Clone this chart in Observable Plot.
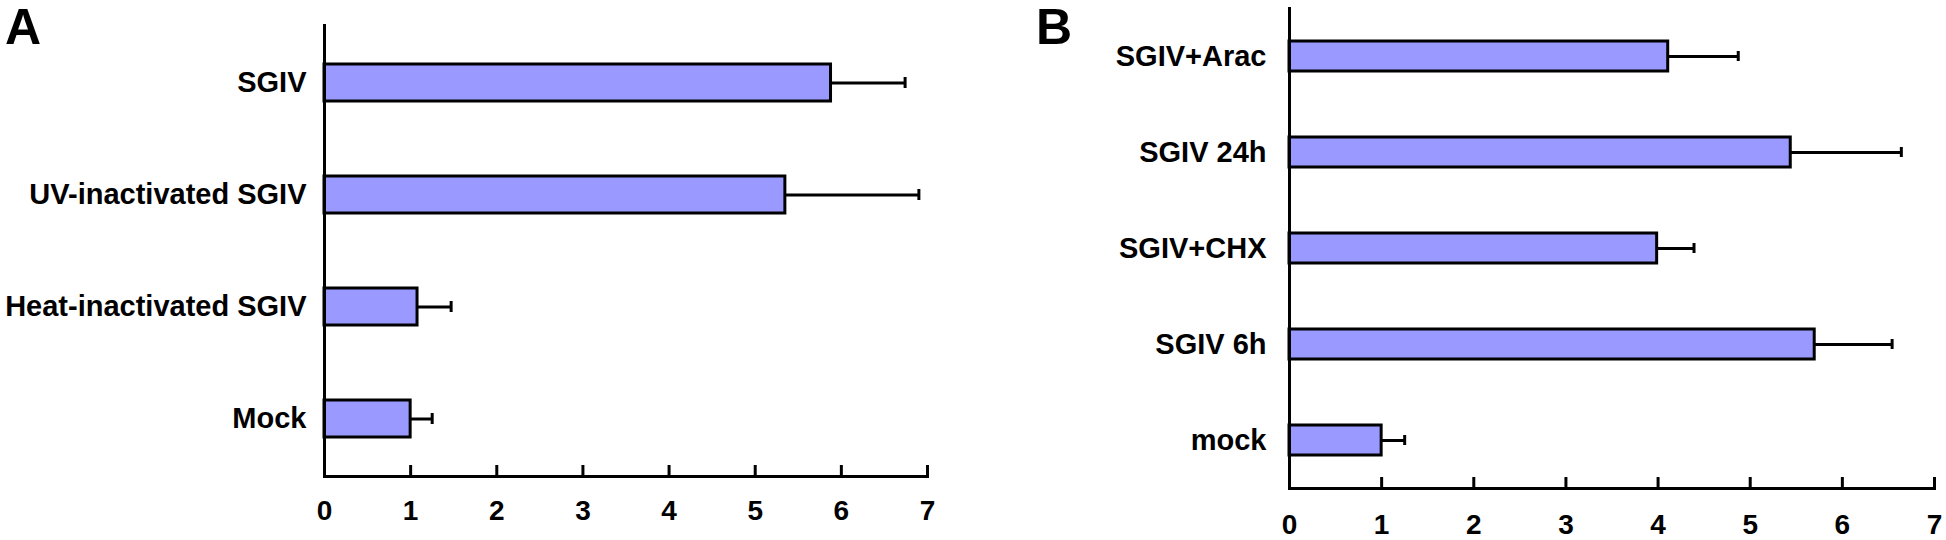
<!DOCTYPE html>
<html><head><meta charset="utf-8">
<script src="https://cdn.jsdelivr.net/npm/d3@7"></script>
<script src="https://cdn.jsdelivr.net/npm/@observablehq/plot@0.6"></script>
<style>
body{margin:0;background:#fff;}
#wrap{position:relative;width:1946px;height:540px;font-family:"Liberation Sans",Arial,sans-serif;overflow:hidden;}
.panel{position:absolute;top:0;}
.letter{position:absolute;font-weight:bold;font-size:50px;line-height:1.1;color:#000;}
</style></head><body>
<div id="wrap">
<div id="pa" class="panel" style="left:0"></div>
<div id="pb" class="panel" style="left:973px"></div>
<div class="letter" style="left:5px;top:0px">A</div>
<div class="letter" style="left:1036px;top:0px">B</div>
</div>
<script>
// Panel A
const categoriesA = ["SGIV", "UV-inactivated SGIV", "Heat-inactivated SGIV", "Mock"];
const meansA = [5.88, 5.35, 1.08, 1.0];
const errorsA = [0.86, 1.55, 0.39, 0.25];
// Panel B
const categoriesB = ["SGIV+Arac", "SGIV 24h", "SGIV+CHX", "SGIV 6h", "mock"];
const meansB = [4.11, 5.44, 3.99, 5.70, 1.0];
const errorsB = [0.76, 1.20, 0.40, 0.84, 0.25];
// shared x axis
const xTicks = [0, 1, 2, 3, 4, 5, 6, 7];

function panel(cats, means, errs, o) {
  const data = cats.map((c, i) => ({cat: c, mean: means[i], hi: means[i] + errs[i]}));
  return Plot.plot({
    width: 973, height: 540,
    marginLeft: o.ml, marginRight: o.mr, marginTop: o.mt, marginBottom: o.mb,
    style: {fontFamily: "'Liberation Sans', Arial, sans-serif", background: "white", overflow: "visible", color: "black"},
    x: {domain: [0, 7]},
    y: {domain: cats, paddingInner: o.pi, paddingOuter: o.pi / 2},
    marks: [
      Plot.ruleY(data, {y: "cat", x1: "mean", x2: "hi", stroke: "black", strokeWidth: 3}),
      Plot.tickX(data, {x: "hi", y: "cat", stroke: "black", strokeWidth: 3, insetTop: o.capInset, insetBottom: o.capInset}),
      Plot.barX(data, {y: "cat", x: "mean", fill: "#9999ff", stroke: "black", strokeWidth: 3}),
      Plot.frame({anchor: "left", stroke: "black", strokeWidth: 3}),
      Plot.frame({anchor: "bottom", stroke: "black", strokeWidth: 3}),
      Plot.axisY({tickSize: 0, tickPadding: o.yPad, fontSize: 29, fontWeight: "bold", label: null}),
      Plot.axisX({ticks: xTicks, tickSize: -11, tickPadding: 11 + o.xPad, strokeWidth: 3, fontSize: 28, fontWeight: "bold", label: null, tickFormat: d => String(d)})
    ]
  });
}

document.getElementById("pa").appendChild(panel(categoriesA, meansA, errorsA,
  {ml: 324, mr: 46, mt: 25, mb: 64, pi: 0.672, capInset: 13, yPad: 18, xPad: 24}));
document.getElementById("pb").appendChild(panel(categoriesB, meansB, errorsB,
  {ml: 316, mr: 12, mt: 8, mb: 52, pi: 0.69, capInset: 10, yPad: 23, xPad: 26}));
</script>
</body></html>
